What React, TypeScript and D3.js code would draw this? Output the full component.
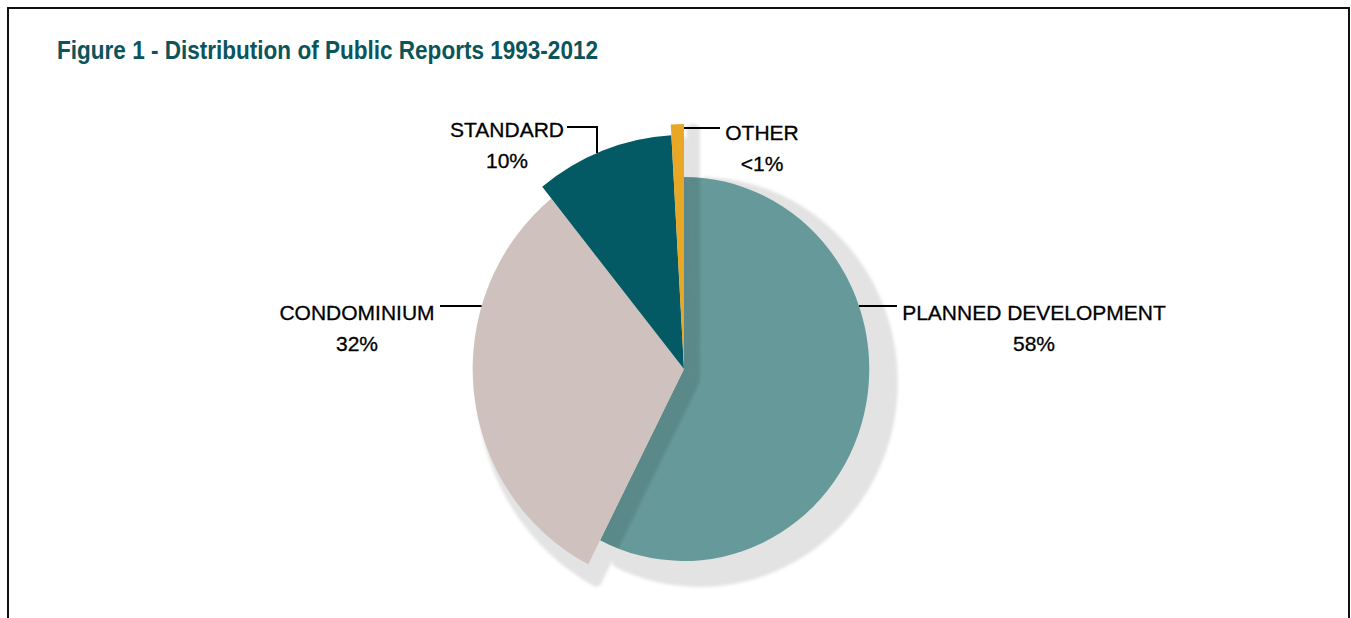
import * as React from "react"
import * as d3 from "d3"

// data
const categories = ["PLANNED DEVELOPMENT", "CONDOMINIUM", "STANDARD", "OTHER"]
const shares = [58, 32, 10, 0.9] // OTHER is "<1%"
const shareLabels = ["58%", "32%", "10%", "<1%"]
const title = "Figure 1 - Distribution of Public Reports 1993-2012"

// look
const W = 1351
const H = 618
const cx = 684
const cy = 369
const squash = 0.965 // pie is a touch narrower than tall
const sliceColor = ["#669a9a", "#cfc1bd", "#035a65", "#e8a826"]
const sliceRadius = [192, 219, 234, 245]
const shadowGrow = 13
const shadowDx = 16
const shadowDy = 13
const font = "'Liberation Sans', Arial, Helvetica, sans-serif"

// label blocks: centre x, first baseline, where the leader meets the text
const labelLayout = [
  { x: 1034, y: 320, leadY: 306, leadX: 897 },
  { x: 357, y: 320, leadY: 306, leadX: 440 },
  { x: 507, y: 137, leadY: 127, leadX: 567 },
  { x: 762, y: 140, leadY: 128, leadX: 720 },
]

export default function App() {
  const pie = d3.pie<number>().sort(null).value(d => d)
  const slices = pie(shares)

  const arc = (r: number, corner = 0) =>
    d3.arc<d3.PieArcDatum<number>>().innerRadius(0).outerRadius(r).cornerRadius(corner)

  // where a horizontal line at y meets the round edge of slice i
  const edgeX = (i: number, y: number, side: 1 | -1) => {
    const r = sliceRadius[i]
    const dy = y - cy
    return cx + side * squash * Math.sqrt(r * r - dy * dy)
  }
  const edgeY = (i: number, x: number) => {
    const r = sliceRadius[i]
    const dx = (x - cx) / squash
    return cy - Math.sqrt(r * r - dx * dx)
  }

  const leaders = [
    // planned development: out to the right
    `M${edgeX(0, labelLayout[0].leadY, 1)},${labelLayout[0].leadY}H${labelLayout[0].leadX}`,
    // condominium: out to the left
    `M${labelLayout[1].leadX},${labelLayout[1].leadY}H${edgeX(1, labelLayout[1].leadY, -1)}`,
    // standard: elbow down onto the slice
    `M${labelLayout[2].leadX},${labelLayout[2].leadY}H597V${edgeY(2, 597)}`,
    // other: from the thin slice's right edge
    `M${cx},${labelLayout[3].leadY}H${labelLayout[3].leadX}`,
  ]

  return (
    <svg
      width={W}
      height={H}
      viewBox={`0 0 ${W} ${H}`}
      style={{ position: "absolute", left: 0, top: 0, background: "#fff" }}
    >
      <defs>
        <filter id="soft" x="-20%" y="-20%" width="140%" height="140%">
          <feGaussianBlur stdDeviation="1.5" />
        </filter>
      </defs>

      <rect x={8} y={8} width={1341} height={700} fill="none" stroke="#111" strokeWidth={2} />

      <text
        x={57}
        y={59}
        fontFamily={font}
        fontWeight={700}
        fontSize={26}
        fill="#0b545b"
        textLength={541}
        lengthAdjust="spacingAndGlyphs"
      >
        {title}
      </text>

      {slices.map((s, i) => (
        <g key={categories[i]}>
          <path
            d={arc(sliceRadius[i] + shadowGrow, 6)(s) || ""}
            transform={`translate(${cx + shadowDx},${cy + shadowDy}) scale(${squash},1)`}
            fill="#000"
            fillOpacity={0.11}
            filter="url(#soft)"
          />
          <path
            d={arc(sliceRadius[i])(s) || ""}
            transform={`translate(${cx},${cy}) scale(${squash},1)`}
            fill={sliceColor[i]}
          />
        </g>
      ))}

      {leaders.map((d, i) => (
        <path key={i} d={d} fill="none" stroke="#000" strokeWidth={2} />
      ))}

      {categories.map((c, i) => (
        <g key={c} fontFamily={font} fontSize={21} fill="#000" stroke="#000" strokeWidth={0.3} textAnchor="middle">
          <text x={labelLayout[i].x} y={labelLayout[i].y}>{c}</text>
          <text x={labelLayout[i].x} y={labelLayout[i].y + 31}>{shareLabels[i]}</text>
        </g>
      ))}
    </svg>
  )
}
